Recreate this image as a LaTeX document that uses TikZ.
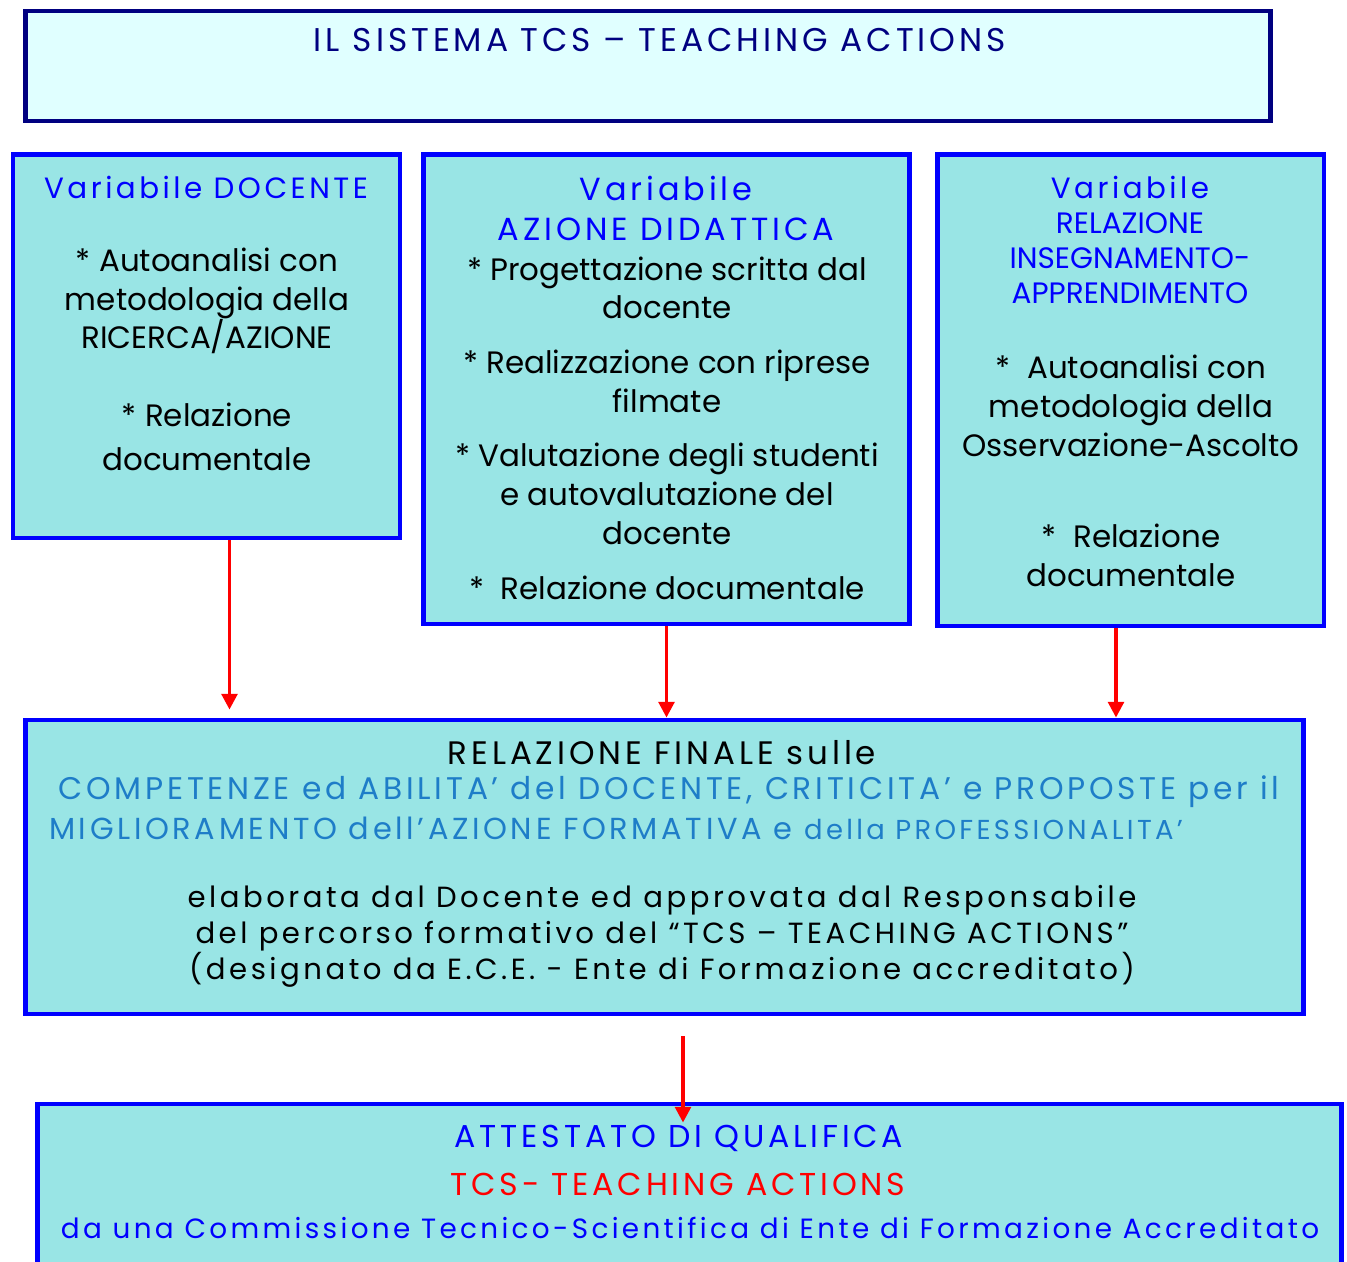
\documentclass[tikz,border=0pt]{standalone}
\usepackage{fontspec}
\setmainfont{Poppins}
\newfontfamily\widefont[LetterSpace=12]{Poppins}
\usetikzlibrary{arrows.meta}
\definecolor{boxfill}{RGB}{153,229,229}
\definecolor{topfill}{RGB}{224,255,255}
\definecolor{topline}{RGB}{0,0,128}
\definecolor{boxline}{RGB}{0,0,255}
\definecolor{steel}{RGB}{30,125,200}
\begin{document}
\begin{tikzpicture}[x=0.02cm,y=-0.02cm,
  varbox/.style={draw=boxline, fill=boxfill, line width=2.8pt, inner sep=0pt},
  arr/.style={draw=red, line width=2pt, -{Triangle[length=9pt,width=9pt]}},
  bd/.style={inner sep=0pt, align=center, font=\fontsize{17.6}{22.1}\selectfont},
  hd/.style={inner sep=0pt, align=center, text=boxline, font=\widefont\fontsize{16.7}{22.7}\selectfont},
  wide/.style={inner sep=0pt, align=center, font=\widefont\fontsize{16.6}{20.4}\selectfont}]
\path[use as bounding box, clip] (0,0) rectangle (1347,1262);
% boxes
\node[draw=topline, fill=topfill, line width=2.8pt, minimum width=24.92cm, minimum height=2.2cm] (top) at (648,66) {};
\node[varbox, minimum width=7.74cm, minimum height=7.68cm] (doc) at (206.5,346) {};
\node[varbox, minimum width=9.74cm, minimum height=9.4cm] (azione) at (666.5,389) {};
\node[varbox, minimum width=7.74cm, minimum height=9.44cm] (rel) at (1130.5,390) {};
\node[varbox, minimum width=25.58cm, minimum height=5.88cm] (final) at (664.5,867) {};
\node[varbox, minimum width=26.1cm, minimum height=3.92cm] (att) at (689.5,1202) {};
% texts
\node[wide, text=topline, font=\widefont\fontsize{18.7}{20}\selectfont] (topT) at (660,40) {IL SISTEMA TCS – TEACHING ACTIONS};
\node[hd] (docH) at (206,187) {Variabile DOCENTE};
\node[bd] (docT) at (207,359) {* Autoanalisi con\\metodologia della\\RICERCA/AZIONE\\[22pt]* Relazione\\[2.8pt]documentale};
\node[hd, font=\widefont\fontsize{18.2}{22.7}\selectfont] (azH) at (666,208) {Variabile\\AZIONE DIDATTICA};
\node[bd] (azT) at (667,428) {* Progettazione scritta dal\\docente\\[9pt]* Realizzazione con riprese\\filmate\\[9pt]* Valutazione degli studenti\\e autovalutazione del\\docente\\[9pt]*~~Relazione documentale};
\node[hd] (relH) at (1130,187) {Variabile};
\node[bd, text=boxline, font=\fontsize{16.8}{19.8}\selectfont] (relS) at (1130,258) {RELAZIONE\\INSEGNAMENTO-\\APPRENDIMENTO};
\node[bd] (relT) at (1131,471) {*~~Autoanalisi con\\metodologia della\\Osservazione-Ascolto\\[30pt]*~~Relazione\\documentale};
\node[wide, font=\widefont\fontsize{18.5}{20}\selectfont] (finH) at (662,753) {RELAZIONE FINALE sulle};
\node[wide, text=steel, font=\widefont\fontsize{17.8}{20}\selectfont] (finA) at (669,792) {COMPETENZE ed ABILITA’ del DOCENTE, CRITICITA’ e PROPOSTE per il};
\node[wide, text=steel, font=\widefont\fontsize{17.3}{20}\selectfont] (finB) at (616,828) {MIGLIORAMENTO dell’AZIONE FORMATIVA e {\fontsize{15.6}{18}\selectfont della PROFESSIONALITA’}};
\node[wide] (finT) at (662,936) {elaborata dal Docente ed approvata dal Responsabile\\del percorso formativo del “TCS – TEACHING ACTIONS”\\(designato da E.C.E. - Ente di Formazione accreditato)};
\node[wide, text=boxline, font=\widefont\fontsize{18}{20}\selectfont] (attA) at (679,1138) {ATTESTATO DI QUALIFICA};
\node[wide, text=red, font=\widefont\fontsize{18}{20}\selectfont] (attB) at (678,1184) {TCS- TEACHING ACTIONS};
\node[wide, text=boxline, font=\widefont\fontsize{15.85}{20}\selectfont] (attC) at (690,1228) {da una Commissione Tecnico-Scientifica di Ente di Formazione Accreditato};
% arrows
\draw[arr] (doc.south) ++(0.46cm,0) coordinate (a1) -- ([yshift=0.16cm]a1 |- final.north);
\draw[arr] (azione.south) -- (azione.south |- final.north);
\draw[arr] (rel.south) ++(-0.29cm,0) coordinate (a3) -- (a3 |- final.north);
\coordinate (a4) at (683,1036);
\draw[arr, shorten >=-0.42cm] (a4) -- (a4 |- att.north);
\end{tikzpicture}
\end{document}
